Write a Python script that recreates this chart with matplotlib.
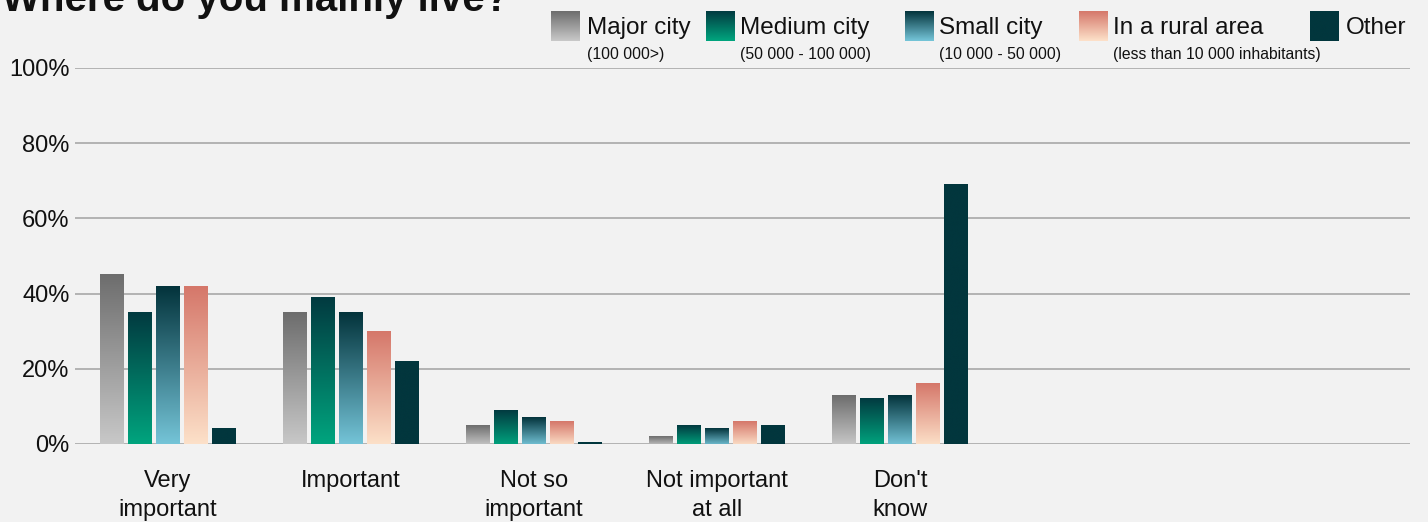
import numpy as np
import matplotlib.pyplot as plt
from matplotlib.colors import LinearSegmentedColormap

plt.rcParams['font.family'] = ['Liberation Sans', 'DejaVu Sans']

categories = ['Very\nimportant', 'Important', 'Not so\nimportant', 'Not important\nat all', "Don't\nknow"]
series = ['Major city', 'Medium city', 'Small city', 'In a rural area', 'Other']
sublabels = ['(100 000>)', '(50 000 - 100 000)', '(10 000 - 50 000)', '(less than 10 000 inhabitants)', '']

major = [45, 35, 5, 2, 13]
medium = [35, 39, 9, 5, 12]
small = [42, 35, 7, 4, 13]
rural = [42, 30, 6, 6, 16]
other = [4, 22, 0.5, 5, 69]

# top colour -> bottom colour for each series
grads = [
    ('#6d6d6d', '#c9c9c9'),
    ('#023a40', '#00a67f'),
    ('#03333b', '#76c6da'),
    ('#d5776a', '#fde2ca'),
    ('#02363d', '#02363d'),
]

bg = '#f2f2f2'
W, H = 1428, 522
fig = plt.figure(figsize=(W / 100, H / 100), dpi=100, facecolor=bg)
ax = fig.add_axes([75 / W, (H - 444) / H, (1410 - 75) / W, (444 - 68) / H])
ax.set_facecolor(bg)

grad = np.linspace(1, 0, 256).reshape(-1, 1)
cmaps = [LinearSegmentedColormap.from_list('c%d' % i, [b, t]) for i, (t, b) in enumerate(grads)]

bw = 0.131
pitch = 0.153
data = [major, medium, small, rural, other]
for s, vals in enumerate(data):
    for g, v in enumerate(vals):
        x0 = g + (s - 2) * pitch - bw / 2
        ax.imshow(grad, extent=[x0, x0 + bw, -0.5, v], aspect='auto',
                  cmap=cmaps[s], vmin=0, vmax=1, zorder=3, interpolation='bicubic')

ax.set_xlim(-0.508, 6.787)
ax.set_ylim(0, 100)
ax.set_yticks(range(0, 101, 20))
ax.set_yticklabels(['%d%%' % v for v in range(0, 101, 20)], fontsize=17, color='#111111')
ax.set_xticks(range(len(categories)))
ax.set_xticklabels(categories, fontsize=17, color='#111111', linespacing=1.4)
ax.tick_params(length=0, axis='y', pad=4)
ax.tick_params(length=0, axis='x', pad=19)
ax.grid(axis='y', color='#b3b3b3', linewidth=1.4, zorder=0)
for sp in ax.spines.values():
    sp.set_visible(False)

# legend drawn by hand: gradient squares, names and size notes
sq_x = [551, 706, 905, 1079, 1310]
txt_x = [587, 740, 939, 1113, 1346]
for i in range(len(series)):
    lax = fig.add_axes([sq_x[i] / W, (H - 41) / H, 29 / W, 30 / H])
    lax.imshow(grad, aspect='auto', cmap=cmaps[i], vmin=0, vmax=1, interpolation='bicubic')
    lax.axis('off')
    fig.text(txt_x[i] / W, (H - 28) / H, series[i], fontsize=17.5, color='#111111', va='center')
    if sublabels[i]:
        fig.text(txt_x[i] / W, (H - 54) / H, sublabels[i], fontsize=11.3, color='#111111', va='center')

fig.text(2 / W, (H - 11) / H, 'Where do you mainly live?', fontsize=29, fontweight='bold',
         color='#111111', va='baseline')

fig.savefig('out.png', dpi=100, facecolor=bg)
